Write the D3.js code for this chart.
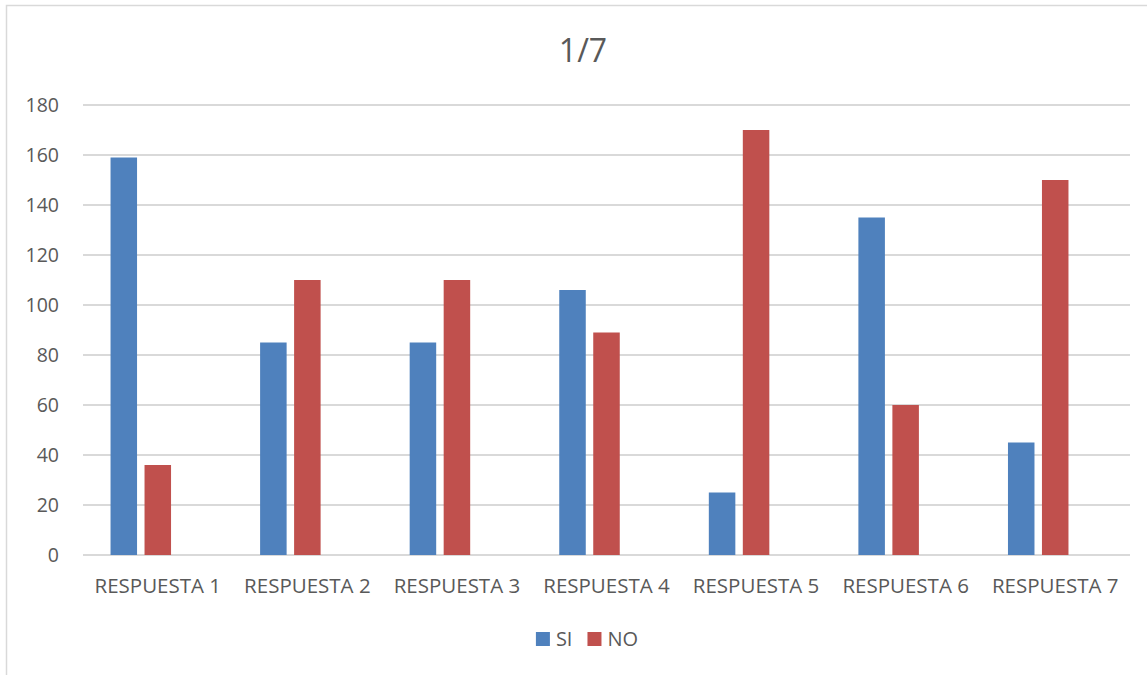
<!DOCTYPE html>
<html>
<head>
<meta charset="utf-8">
<script src="https://cdn.jsdelivr.net/npm/d3@7"></script>
<style>
  html, body { margin: 0; padding: 0; background: #ffffff; }
  svg { display: block; font-family: "Open Sans", "Liberation Sans", sans-serif; }
</style>
</head>
<body>
<svg id="chart" width="1147" height="675"></svg>
<script>
// Survey answers per question
const categories = ["RESPUESTA 1", "RESPUESTA 2", "RESPUESTA 3", "RESPUESTA 4", "RESPUESTA 5", "RESPUESTA 6", "RESPUESTA 7"];
const seriesNames = ["SI", "NO"];
const siValues = [159, 85, 85, 106, 25, 135, 45];
const noValues = [36, 110, 110, 89, 170, 60, 150];
const yTicks = [0, 20, 40, 60, 80, 100, 120, 140, 160, 180];
const title = "1/7";

const seriesValues = [siValues, noValues];
const colors = ["#4F81BD", "#C0504D"];
const textColor = "#595959";
const gridColor = "#D9D9D9";

const svg = d3.select("#chart");
const W = 1147, H = 675;
const margin = { left: 83, right: 17, top: 105, bottom: 120 };
const plotW = W - margin.left - margin.right;
const plotH = H - margin.top - margin.bottom;

// Chart frame
svg.append("rect")
  .attr("x", 6.5).attr("y", 5.5)
  .attr("width", W + 10).attr("height", H + 10)
  .attr("fill", "#ffffff")
  .attr("stroke", gridColor).attr("stroke-width", 1.5);

// Title
svg.append("text")
  .attr("x", 583).attr("y", 62)
  .attr("text-anchor", "middle")
  .attr("font-size", 32)
  .attr("fill", textColor)
  .text(title);

const g = svg.append("g").attr("transform", `translate(${margin.left},${margin.top})`);

const x = d3.scaleBand().domain(categories).range([0, plotW]).padding(0);
// Three slots per category (clustered layout), series use the first two
const xSub = d3.scaleBand().domain(d3.range(3)).range([0, x.bandwidth()])
  .paddingInner(0.22).paddingOuter(0.81);
const y = d3.scaleLinear().domain([0, 180]).range([plotH, 0]);

// Gridlines
g.append("g")
  .selectAll("line")
  .data(yTicks)
  .join("line")
  .attr("x1", 0).attr("x2", plotW)
  .attr("y1", d => y(d)).attr("y2", d => y(d))
  .attr("stroke", gridColor).attr("stroke-width", 2);

// Y axis labels
const yAxis = g.append("g")
  .call(d3.axisLeft(y).tickValues(yTicks).tickSize(0).tickPadding(24));
yAxis.select(".domain").remove();
yAxis.selectAll("text")
  .attr("font-size", 19.5)
  .attr("fill", textColor)
  .attr("font-family", "Open Sans, Liberation Sans, sans-serif");

// Bars
seriesNames.forEach((name, si) => {
  g.append("g")
    .selectAll("rect")
    .data(categories.map((c, i) => ({ c, v: seriesValues[si][i] })))
    .join("rect")
    .attr("x", d => x(d.c) + xSub(si))
    .attr("width", xSub.bandwidth())
    .attr("y", d => y(d.v))
    .attr("height", d => y(0) - y(d.v))
    .attr("fill", colors[si]);
});

// X axis labels
const xAxis = g.append("g")
  .attr("transform", `translate(0,${plotH})`)
  .call(d3.axisBottom(x).tickSize(0).tickPadding(23));
xAxis.select(".domain").remove();
xAxis.selectAll("text")
  .attr("font-size", 20.5)
  .attr("fill", textColor)
  .attr("font-family", "Open Sans, Liberation Sans, sans-serif");

// Legend
const legend = svg.append("g");
const sq = 14, gapText = 6, gapItem = 15;
const items = legend.selectAll("g").data(seriesNames).join("g");
items.append("rect")
  .attr("width", sq).attr("height", sq)
  .attr("y", 632)
  .attr("fill", (d, i) => colors[i]);
items.append("text")
  .attr("x", sq + gapText)
  .attr("y", 646)
  .attr("font-size", 20)
  .attr("fill", textColor)
  .text(d => d);
let offset = 0;
const widths = [];
items.each(function () {
  const w = sq + gapText + d3.select(this).select("text").node().getComputedTextLength();
  widths.push(w);
});
const total = d3.sum(widths) + gapItem * (widths.length - 1);
let start = 587 - total / 2;
items.attr("transform", (d, i) => {
  const tx = start + offset;
  offset += widths[i] + gapItem;
  return `translate(${tx},0)`;
});
</script>
</body>
</html>
